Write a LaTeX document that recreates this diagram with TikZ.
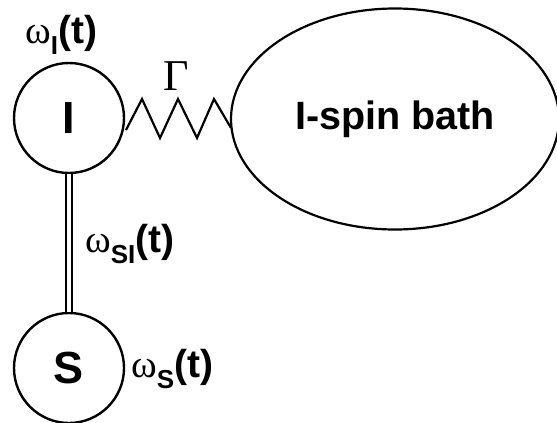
\documentclass[tikz,border=0pt]{standalone}
\usepackage{fontspec}
\setmainfont{Liberation Sans}
\newfontfamily\greekfont{Liberation Serif}
\usetikzlibrary{shapes.geometric}
% omega with a bold subscript and (t)
\newcommand\omlabel[1]{{\greekfont\mdseries ω}\raisebox{-11pt}{\fontsize{26}{26}\selectfont\bfseries #1}\bfseries(t)}
\begin{document}
\begin{tikzpicture}[x=1pt,y=-1pt,
  spin/.style={circle,draw,line width=2.4pt,minimum size=110pt,inner sep=0pt,
    font=\fontsize{45}{45}\selectfont\bfseries},
  lbl/.style={inner sep=0pt,font=\fontsize{39}{39}\selectfont},
  bath/.style={ellipse,draw,line width=2.2pt,minimum width=328pt,minimum height=221pt,
    inner sep=0pt,font=\fontsize{39.5}{39.5}\selectfont\bfseries}]
\useasboundingbox (0,0) rectangle (557,423);
\begin{scope}
\clip (0,0) rectangle (557,423);
\node[spin] (I) at (69,118) {I};
\node[spin] (S) at (69,368) {S};
\node[bath] (B) at (395,119) {I-spin bath};
\end{scope}
% exchange coupling between the two spins
\draw[line width=1.8pt,double=white,double distance=4.6pt] (I.south) -- (S.north);
% spring to the bath
\coordinate (z0) at (126,130);
\coordinate (z1) at (142,99);
\coordinate (z2) at (160,138);
\coordinate (z3) at (178,99);
\coordinate (z4) at (197,138);
\coordinate (z5) at (214,99);
\coordinate (z6) at (231,128);
\draw[line width=2.2pt,line join=miter] (z0) -- (z1) -- (z2) -- (z3) -- (z4) -- (z5) -- (z6);
\node[lbl,font=\fontsize{44}{44}\selectfont\greekfont] (G) at (176,76) {Γ};
\node[lbl,anchor=base west] (wI) at (25,43) {\omlabel{I}};
\node[lbl,anchor=base west] (wSI) at (85,252) {\omlabel{SI}};
\node[lbl,anchor=base west] (wS) at (131,377) {\omlabel{S}};
\end{tikzpicture}
\end{document}
